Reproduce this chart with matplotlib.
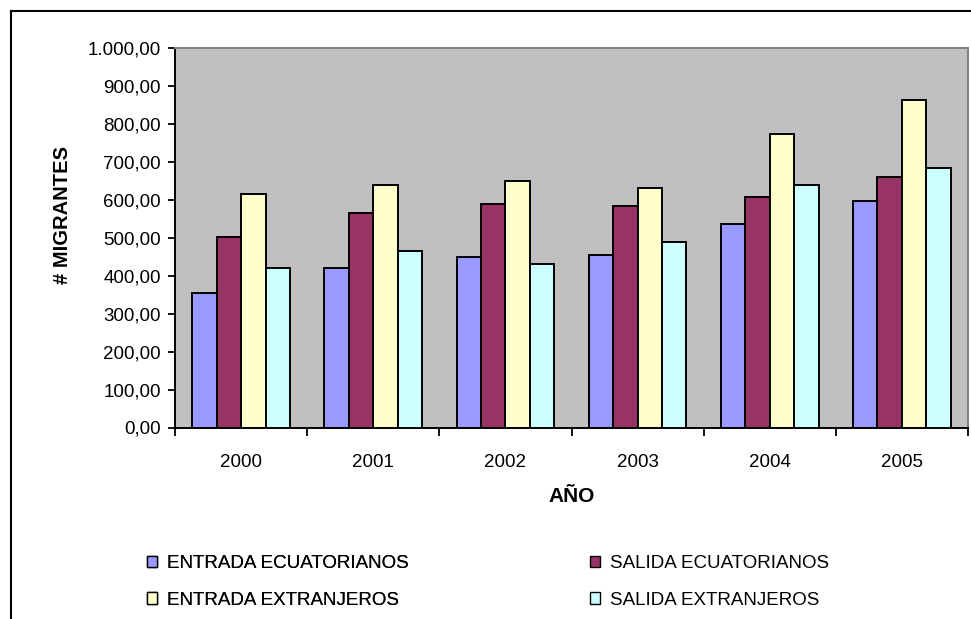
import matplotlib
matplotlib.use("Agg")
import matplotlib.pyplot as plt
import numpy as np
from matplotlib.patches import Patch
from matplotlib.lines import Line2D
from matplotlib.ticker import FuncFormatter, MultipleLocator

plt.rcParams['font.family'] = ['Liberation Sans', 'DejaVu Sans']

# Data (thousands of migrants per year)
years = ["2000", "2001", "2002", "2003", "2004", "2005"]
entrada_ecuatorianos = [354, 421, 450, 455, 536, 597]
salida_ecuatorianos = [502, 565, 589, 584, 608, 660]
entrada_extranjeros = [616, 640, 650, 631, 774, 864]
salida_extranjeros = [421, 465, 431, 488, 640, 683]

series_labels = ["ENTRADA ECUATORIANOS", "SALIDA ECUATORIANOS",
                 "ENTRADA EXTRANJEROS", "SALIDA EXTRANJEROS"]
series_values = [entrada_ecuatorianos, salida_ecuatorianos,
                 entrada_extranjeros, salida_extranjeros]
series_colors = ["#9999FF", "#993366", "#FFFFCC", "#CCFFFF"]

W, H = 971, 619
fig = plt.figure(figsize=(W / 100, H / 100), dpi=100)
fig.patch.set_facecolor("white")

ax = fig.add_axes([175 / W, 1 - 427.5 / H, (968 - 175) / W, (427.5 - 48) / H])
ax.set_facecolor("#C0C0C0")

x = np.arange(len(years))
bar_w = 0.185
offsets = (np.arange(4) - 1.5) * bar_w
for vals, col, off in zip(series_values, series_colors, offsets):
    ax.bar(x + off, vals, width=bar_w, color=col, edgecolor="black",
           linewidth=1.4, zorder=3)

ax.set_xlim(-0.5, len(years) - 0.5)
ax.set_ylim(0, 1000)

# y axis
ax.yaxis.set_major_locator(MultipleLocator(100))


def es_fmt(v, pos):
    s = f"{v:,.2f}"
    return s.replace(",", "X").replace(".", ",").replace("X", ".")


ax.yaxis.set_major_formatter(FuncFormatter(es_fmt))
ax.tick_params(axis="y", direction="out", length=5, width=1.3,
               labelsize=13.5, pad=5, colors="black")

# x axis: ticks at category boundaries, labels at centers
ax.set_xticks(np.arange(len(years) + 1) - 0.5)
ax.set_xticklabels([])
ax.tick_params(axis="x", which="major", direction="out", length=6, width=1.3)
ax.set_xticks(x, minor=True)
ax.set_xticklabels(years, minor=True)
ax.tick_params(axis="x", which="minor", length=0, labelsize=13.5, pad=19)

for side in ["left", "bottom"]:
    ax.spines[side].set_color("black")
    ax.spines[side].set_linewidth(1.4)
for side in ["top", "right"]:
    ax.spines[side].set_color("#808080")
    ax.spines[side].set_linewidth(1.4)

# axis titles
fig.text(62 / W, 1 - 215 / H, "# MIGRANTES", rotation=90, ha="center",
         va="center", fontsize=14.5, fontweight="bold")
fig.text(572 / W, 1 - 496 / H, "AÑO", ha="center", va="center",
         fontsize=15, fontweight="bold")

# outer frame (left and top edges)
fig.add_artist(Line2D([10.5 / W, 10.5 / W], [0, 1 - 11 / H], color="black",
                      linewidth=1.5, transform=fig.transFigure))
fig.add_artist(Line2D([10.5 / W, 970 / W], [1 - 11 / H, 1 - 11 / H],
                      color="black", linewidth=1.5, transform=fig.transFigure))

# legend in two columns
handles = [Patch(facecolor=c, edgecolor="black", linewidth=1.0)
           for c in series_colors]
common = dict(frameon=False, fontsize=13.5, handlelength=0.55,
              handleheight=0.55, handletextpad=0.5, labelspacing=1.05,
              borderaxespad=0, borderpad=0)
leg1 = fig.legend([handles[0], handles[2]], [series_labels[0], series_labels[2]],
                  loc="upper left", bbox_to_anchor=(147 / W, 1 - 555 / H), **common)
fig.add_artist(leg1)
fig.legend([handles[1], handles[3]], [series_labels[1], series_labels[3]],
           loc="upper left", bbox_to_anchor=(590 / W, 1 - 555 / H), **common)

fig.savefig("out.png", dpi=100)
